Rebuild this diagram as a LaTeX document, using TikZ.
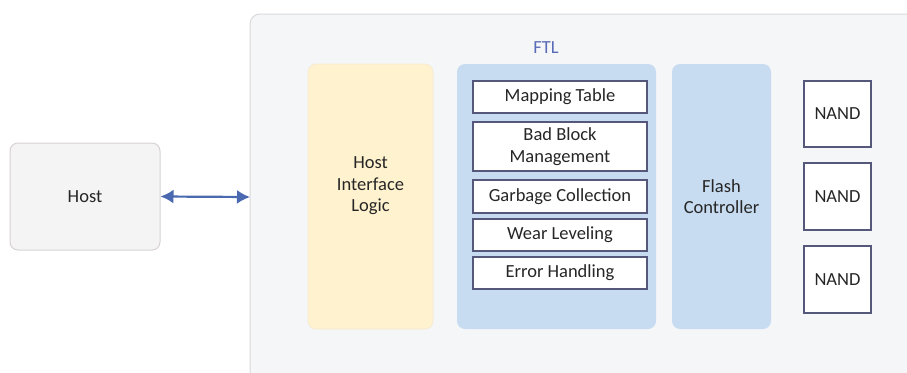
\documentclass[tikz,border=0pt]{standalone}
\usepackage{fontspec}
\setmainfont{Carlito}
\usetikzlibrary{arrows.meta}
\definecolor{outerfill}{HTML}{F5F6F8}
\definecolor{outerline}{HTML}{D9D9DC}
\definecolor{hostfill}{HTML}{F4F4F4}
\definecolor{hostline}{HTML}{D8D2D2}
\definecolor{hilfill}{HTML}{FFF2CF}
\definecolor{hilline}{HTML}{F6EBD2}
\definecolor{bluefill}{HTML}{C7DCF1}
\definecolor{innerline}{HTML}{55587A}
\definecolor{arrowc}{HTML}{4A69B0}
\definecolor{ftlc}{HTML}{5A6BB8}
\definecolor{txt}{HTML}{262626}
\tikzset{
  txtfont/.style={font=\fontsize{18.5}{21.5}\selectfont, text=txt, align=center},
  panel/.style={rounded corners=8pt, inner sep=0pt, txtfont},
  innerbox/.style={draw=innerline, line width=1.2pt, fill=white, inner sep=0pt, txtfont},
}
\begin{document}
\begin{tikzpicture}[x=1pt,y=-1pt]
\useasboundingbox (0,0) rectangle (907,372);
\clip (0,0) rectangle (907,372);
\fill[white] (0,0) rectangle (907,372);
% outer FTL area
\draw[fill=outerfill, draw=outerline, line width=1pt, rounded corners=10pt] (250,14) rectangle (940,400);
\node[font=\fontsize{18.5}{21}\selectfont, text=ftlc] (ftl) at (546,48) {FTL};
% host
\node[panel, draw=hostline, line width=1pt, fill=hostfill, minimum width=150pt, minimum height=107pt] (host) at (85,196.5) {Host};
% host interface logic
\node[panel, draw=hilline, line width=0.8pt, fill=hilfill, minimum width=125pt, minimum height=265pt] (hil) at (370.5,196.5) {};
\node[txtfont, inner sep=0pt] (hiltext) at (370.5,186) {Host\\Interface\\Logic};
% middle blue panel
\node[panel, fill=bluefill, minimum width=199pt, minimum height=265pt] (mid) at (556.5,196.5) {};
% flash controller
\node[panel, fill=bluefill, minimum width=99pt, minimum height=265pt] (fc) at (721.5,196.5) {Flash\\Controller};
% inner boxes
\node[innerbox, minimum width=174pt, minimum height=32pt] (map) at (560,97) {Mapping Table};
\node[innerbox, minimum width=174pt, minimum height=49pt] (bbm) at (560,146.5) {Bad Block\\Management};
\node[innerbox, minimum width=174pt, minimum height=33pt] (gc) at (560,196.5) {Garbage Collection};
\node[innerbox, minimum width=174pt, minimum height=32pt] (wl) at (560,235) {Wear Leveling};
\node[innerbox, minimum width=174pt, minimum height=32pt] (eh) at (560,273) {Error Handling};
% NAND
\node[innerbox, minimum width=67pt, minimum height=66pt] (n1) at (837.5,114) {NAND};
\node[innerbox, minimum width=67pt, minimum height=67pt] (n2) at (837.5,196.5) {NAND};
\node[innerbox, minimum width=67pt, minimum height=67pt] (n3) at (837.5,279.5) {NAND};
% arrow
\coordinate (ftlin) at (250,197);
\draw[arrowc, line width=2.2pt, {Latex[length=13pt,width=14pt]}-{Latex[length=13pt,width=14pt]}] (host.east) -- (ftlin);
\end{tikzpicture}
\end{document}
